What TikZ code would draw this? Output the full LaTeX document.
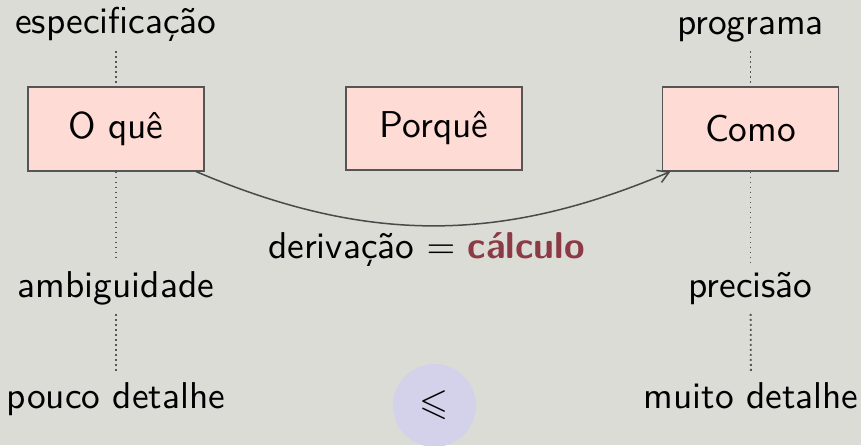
\documentclass[tikz,border=0pt]{standalone}
\usepackage{amssymb}
\usetikzlibrary{arrows.meta}
\newcommand{\pxu}{0.27027pt}
\definecolor{bgc}{HTML}{DADCD5}
\definecolor{boxfill}{HTML}{FFDBD5}
\definecolor{boxline}{HTML}{555555}
\definecolor{dotc}{HTML}{555555}
\definecolor{arrc}{HTML}{4A4A4A}
\definecolor{circfill}{HTML}{D3D2EA}
\definecolor{alertc}{HTML}{8C3A46}
\begin{document}
\begin{tikzpicture}[x=0.27027pt,y=-0.27027pt,
  every node/.style={font=\sffamily\fontsize{10.1}{12}\selectfont},
  box/.style={draw=boxline, line width=1.6*\pxu, fill=boxfill,
    minimum width=176*\pxu, minimum height=83.5*\pxu, inner sep=0pt},
  lbl/.style={inner sep=9*\pxu, anchor=base},
  dots/.style={draw=dotc, line width=1.8*\pxu, dash pattern=on 1.8*\pxu off 3.2*\pxu},
  arr/.style={draw=arrc, line width=1.5*\pxu, -{Straight Barb[length=11*\pxu,width=13*\pxu]}}
]
\fill[bgc] (0,0) rectangle (861,445);
\useasboundingbox (0,0) rectangle (861,445);

\node[box] (oque) at (116,129) {O quê};
\node[box] (porque) at (434,128.5) {Porquê};
\node[box] (como) at (750.5,129) {Como};

\node[lbl] (esp) at (116,33) {especificação};
\node[lbl] (amb) at (116,297) {ambiguidade};
\node[lbl] (pouco) at (116,408) {pouco detalhe};

\node[lbl] (prog) at (750.5,34) {programa};
\node[lbl] (prec) at (750.5,297) {precisão};
\node[lbl] (muito) at (751,408) {muito detalhe};

\draw[dots] (esp) -- (oque);
\draw[dots] (oque) -- (amb);
\draw[dots] (amb) -- (pouco);
\draw[dots] (prog) -- (como);
\draw[dots] (como) -- (prec);
\draw[dots] (prec) -- (muito);

\draw[arr] (oque.-28) to[bend right=23] (como.-152);

\node[anchor=base] (deriv) at (426.5,258) {derivação $=$ \textcolor{alertc}{\textbf{cálculo}}};

\node[circle, fill=circfill, minimum size=83*\pxu, inner sep=0pt] (leq) at (434.5,405.5) {$\leqslant$};
\end{tikzpicture}
\end{document}
